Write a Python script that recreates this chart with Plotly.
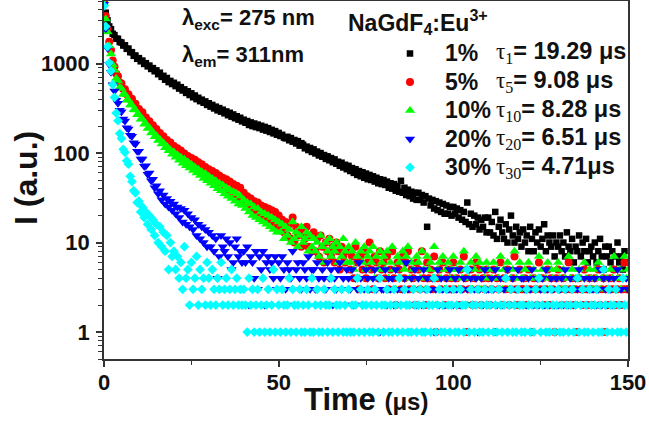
import math
import plotly.graph_objects as go

# ---------------- data ----------------
time_step_us = 0.5
n_points = 301
time_us = [i * time_step_us for i in range(n_points)]

black_1pct = [
    4900, 3700, 3050, 2600, 2420, 2150, 2080, 1900, 1890, 1740, 1720, 1590, 1600, 1460, 1470, 1340, 1340, 1220, 1230, 1130,
    1150, 1060, 1080, 990, 1010, 930, 950, 870, 890, 820, 840, 760, 790, 710, 730, 660, 690, 620, 640, 590,
    610, 560, 580, 525, 545, 500, 515, 470, 490, 445, 465, 420, 440, 400, 415, 380, 395, 365, 378, 345,
    360, 330, 345, 315, 330, 300, 318, 290, 305, 278, 292, 265, 282, 255, 270, 245, 258, 236, 248, 226,
    236, 218, 228, 206, 220, 200, 214, 195, 208, 190, 202, 183, 196, 178, 190, 172, 182, 166, 176, 160,
    168, 155, 160, 149, 146, 152, 139, 147, 134, 140, 128, 136, 121, 129, 124, 113, 118, 108, 114, 103,
    110, 99, 104, 94, 100, 91, 95, 86, 92, 83, 88, 79, 85, 76, 80, 72, 78, 69, 74, 66,
    72, 63, 68, 60, 66, 57, 63, 55, 61, 53, 59, 51, 57, 50, 55, 48, 53, 46, 51, 45,
    50, 44, 48, 41, 46, 40, 45, 38, 43, 37, 49, 36, 41, 34, 39, 33, 37, 31, 36, 30,
    36, 30, 34, 28, 33, 15, 31, 26, 30, 24, 29, 23, 28, 22, 27, 21, 26, 21, 25, 20,
    25, 21, 24, 19, 23, 18, 22, 17, 28, 16, 21, 15, 20, 16, 19, 14, 18, 15, 19, 13,
    19, 13, 17, 12, 22, 11, 15, 18, 13, 11, 16, 10, 14, 20, 12, 10, 15, 11, 13, 9,
    14, 10, 12, 8, 15, 11, 8, 13, 10, 14, 9, 11, 16, 8, 12, 10, 9, 12, 7, 10,
    9, 12, 8, 10, 7, 13, 9, 8, 11, 6, 9, 8, 12, 7, 10, 8, 11, 6, 8, 9,
    7, 10, 6, 8, 11, 7, 5, 9, 7, 9, 6, 8, 5, 7, 10, 6, 7, 5, 8, 6,
    6,
]

red_5pct = [
    4800, 3400, 2450, 1750, 1420, 1080, 920, 770, 720, 610, 600, 520, 515, 455, 455, 400, 405, 360, 355, 315,
    310, 280, 285, 248, 250, 222, 226, 200, 205, 180, 186, 162, 168, 149, 154, 137, 140, 126, 131, 116,
    120, 106, 113, 98, 107, 92, 99, 86, 93, 80, 88, 75, 84, 71, 79, 67, 75, 63, 70, 60,
    66, 56, 63, 52, 60, 49, 56, 46, 53, 42, 51, 39, 48, 37, 45, 34, 43, 32, 41, 30,
    36, 28, 33, 25, 31, 23, 29, 22, 28, 20, 26, 19, 25, 18, 24, 17, 23, 16, 22, 15,
    20, 14, 18, 13, 17, 12, 16, 11, 19, 10, 15, 12, 14, 9, 13, 11, 15, 9, 12, 8,
    13, 8, 11, 7, 12, 9, 6, 10, 8, 11, 7, 9, 6, 10, 8, 5, 9, 7, 6, 8,
    8, 5, 7, 4, 9, 6, 3, 7, 5, 8, 4, 6, 10, 5, 3, 7, 6, 4, 8, 5,
    6, 4, 7, 3, 5, 8, 4, 2, 6, 5, 3, 7, 4, 6, 8, 3, 5, 4, 2, 6,
    5, 3, 8, 4, 2, 6, 4, 5, 3, 7, 1, 4, 5, 3, 6, 2, 4, 5, 3, 4,
    6, 3, 4, 2, 5, 3, 7, 4, 1, 3, 5, 2, 4, 6, 3, 5, 2, 4, 3, 5,
    4, 2, 3, 5, 1, 4, 3, 6, 2, 4, 3, 5, 2, 3, 4, 7, 3, 2, 5, 3,
    3, 4, 2, 5, 3, 1, 4, 3, 2, 6, 3, 4, 2, 3, 5, 2, 4, 3, 1, 4,
    5, 3, 2, 4, 3, 2, 6, 3, 4, 2, 3, 1, 4, 3, 2, 5, 3, 2, 4, 3,
    2, 4, 3, 5, 2, 3, 4, 1, 3, 2, 4, 3, 5, 2, 3, 4, 2, 3, 6, 3,
    3,
]

green_10pct = [
    4700, 3150, 2250, 1580, 1280, 970, 840, 680, 640, 540, 525, 455, 450, 390, 392, 345, 345, 305, 302, 268,
    268, 238, 240, 210, 212, 188, 192, 168, 171, 152, 156, 138, 142, 126, 130, 115, 119, 106, 109, 97,
    103, 90, 96, 83, 90, 77, 85, 72, 80, 68, 75, 64, 70, 60, 66, 56, 62, 52, 59, 49,
    55, 46, 52, 43, 49, 40, 46, 38, 44, 35, 41, 33, 39, 31, 37, 29, 35, 27, 33, 26,
    30, 24, 28, 22, 27, 20, 25, 19, 24, 18, 22, 17, 21, 16, 20, 15, 19, 14, 18, 13,
    17, 13, 16, 11, 15, 12, 14, 10, 17, 11, 13, 9, 12, 15, 10, 11, 13, 8, 12, 9,
    11, 8, 10, 7, 12, 9, 6, 10, 8, 11, 7, 9, 8, 10, 6, 9, 7, 11, 8, 6,
    9, 6, 8, 5, 10, 7, 4, 8, 6, 9, 5, 7, 8, 6, 9, 4, 7, 5, 8, 6,
    7, 5, 8, 4, 6, 9, 5, 3, 7, 6, 4, 8, 5, 7, 9, 4, 6, 5, 3, 7,
    6, 4, 8, 5, 3, 7, 5, 6, 4, 9, 2, 5, 6, 4, 7, 3, 5, 6, 4, 5,
    7, 4, 5, 3, 6, 4, 8, 5, 2, 4, 6, 3, 5, 7, 4, 6, 3, 5, 4, 6,
    5, 3, 4, 6, 2, 5, 4, 7, 3, 5, 4, 6, 3, 4, 5, 8, 4, 3, 6, 4,
    4, 5, 3, 6, 4, 2, 5, 4, 3, 7, 4, 5, 3, 4, 6, 3, 5, 4, 1, 5,
    6, 4, 3, 5, 4, 3, 7, 4, 5, 3, 4, 2, 5, 4, 3, 6, 4, 3, 5, 4,
    3, 5, 4, 6, 3, 4, 5, 2, 4, 3, 5, 4, 7, 3, 4, 5, 3, 4, 7, 4,
    5,
]

blue_20pct = [
    4600, 2450, 1480, 980, 800, 580, 495, 390, 360, 300, 290, 240, 228, 192, 186, 158, 154, 130, 126, 105,
    105, 86, 86, 71, 72, 58, 60, 49, 51, 41, 43, 35, 38, 30, 34, 27, 31, 25, 29, 23,
    27, 21, 25, 19, 24, 17, 23, 16, 21, 15, 19, 14, 18, 12, 16, 11, 15, 10, 14, 9,
    13, 9, 12, 8, 11, 4, 7, 12, 9, 8, 11, 7, 10, 5, 6, 9, 11, 7, 8, 6,
    8, 6, 9, 2, 7, 6, 4, 8, 3, 7, 5, 8, 2, 6, 7, 5, 6, 4, 7, 3,
    6, 4, 7, 5, 3, 6, 5, 4, 8, 2, 5, 6, 4, 3, 6, 5, 4, 7, 3, 5,
    5, 3, 6, 4, 2, 5, 4, 3, 6, 4, 5, 2, 4, 3, 5, 6, 3, 4, 2, 5,
    4, 3, 5, 2, 4, 3, 6, 4, 2, 3, 5, 4, 3, 2, 4, 5, 3, 4, 1, 3,
    3, 5, 2, 4, 3, 4, 2, 5, 3, 4, 2, 3, 4, 6, 3, 2, 4, 3, 5, 2,
    4, 3, 2, 5, 3, 4, 2, 3, 4, 1, 3, 5, 2, 4, 3, 2, 4, 3, 5, 3,
    2, 4, 3, 5, 2, 3, 4, 2, 3, 5, 4, 2, 3, 4, 1, 3, 4, 2, 5, 3,
    3, 2, 4, 3, 5, 2, 3, 4, 2, 3, 4, 5, 2, 3, 4, 2, 3, 5, 2, 4,
    4, 3, 2, 4, 3, 5, 2, 3, 4, 2, 3, 4, 2, 5, 3, 2, 4, 3, 2, 4,
    2, 3, 4, 2, 5, 3, 2, 4, 3, 2, 4, 3, 5, 2, 3, 4, 2, 3, 4, 2,
    3, 4, 2, 3, 5, 2, 4, 3, 2, 4, 3, 2, 4, 3, 5, 2, 3, 4, 2, 4,
    3,
]

cyan_30pct = [
    4400, 2600, 1550, 1020, 830, 580, 420, 280, 230, 165, 145, 110, 102, 82, 75, 55, 48, 38, 36, 28,
    29, 22, 25, 19, 22, 16, 20, 14, 18, 12, 16, 10, 15, 9, 13, 8, 12, 5, 10, 7,
    8, 5, 7, 4, 6, 3, 9, 4, 5, 2, 6, 3, 4, 7, 2, 5, 3, 4, 2, 6,
    4, 2, 5, 3, 2, 4, 3, 6, 2, 3, 4, 2, 3, 5, 2, 3, 4, 2, 3, 2,
    3, 2, 1, 4, 2, 3, 1, 2, 3, 1, 2, 4, 1, 2, 3, 1, 2, 5, 1, 3,
    2, 1, 3, 2, 1, 2, 4, 1, 3, 2, 1, 2, 3, 1, 2, 1, 3, 2, 1, 4,
    1, 2, 3, 1, 2, 1, 3, 2, 1, 2, 4, 1, 3, 2, 1, 2, 3, 1, 2, 1,
    3, 1, 2, 1, 2, 4, 1, 3, 2, 1, 2, 3, 1, 2, 1, 3, 2, 1, 4, 2,
    1, 2, 3, 1, 2, 1, 3, 2, 1, 4, 2, 1, 3, 2, 1, 2, 1, 3, 2, 1,
    2, 3, 1, 2, 1, 3, 2, 1, 2, 4, 1, 2, 3, 1, 2, 1, 3, 2, 1, 2,
    3, 1, 2, 1, 3, 2, 1, 2, 5, 1, 3, 2, 1, 2, 3, 1, 2, 1, 3, 2,
    1, 2, 3, 1, 2, 1, 3, 2, 1, 2, 4, 1, 2, 3, 1, 2, 1, 3, 2, 1,
    2, 1, 3, 2, 1, 2, 1, 3, 2, 4, 1, 2, 3, 1, 2, 1, 3, 2, 1, 2,
    3, 1, 2, 1, 3, 2, 1, 2, 3, 1, 2, 4, 1, 2, 3, 1, 2, 1, 3, 2,
    1, 2, 3, 1, 2, 1, 5, 2, 1, 3, 2, 1, 2, 3, 1, 2, 1, 4, 2, 1,
    2,
]

series_values = [black_1pct, red_5pct, green_10pct, blue_20pct, cyan_30pct]
series_labels = ["1%", "5%", "10%", "20%", "30%"]
tau_subscripts = ["1", "5", "10", "20", "30"]
tau_values = ["19.29 μs", "9.08 μs", "8.28 μs", "6.51 μs", "4.71μs"]

x_tick_values = [0, 50, 100, 150]
y_tick_values = [1, 10, 100, 1000]
y_tick_labels = ["1", "10", "100", "1000"]

# ---------------- styles ----------------
colors = ["#000000", "#FF0000", "#00FF00", "#0000FF", "#00FFFF"]
symbols = ["square", "circle", "triangle-up", "triangle-down", "diamond"]
sizes = [6.5, 8, 9, 9, 7.5]
FONT = "Liberation Sans, Arial, sans-serif"
SERIF = "Liberation Serif, Times New Roman, serif"

W, H = 649, 423
L, R, T, B = 104, 628, 1, 359


def px_x(px):
    return (px - L) / (R - L)


def px_y(py):
    return (B - py) / (B - T)


fig = go.Figure()
for vals, lab, col, sym, sz in zip(series_values, series_labels, colors, symbols, sizes):
    fig.add_trace(go.Scatter(
        x=time_us, y=vals, mode="markers",
        name='<span style="font-size:23px"><b>%s</b></span>' % lab,
        marker=dict(symbol=sym, size=sz, color=col, line=dict(width=0)),
    ))

minor_y = [m * 10 ** d for d in range(-1, 4) for m in range(2, 10) if 0.5 <= m * 10 ** d <= 5000]

axis_common = dict(
    showline=True, linecolor="#333333", linewidth=1.5, mirror=True,
    ticks="outside", ticklen=6, tickwidth=1.5, tickcolor="#333333",
    showgrid=False, zeroline=False, automargin=False,
    tickfont=dict(family=FONT, size=22, color="#111111", weight="bold"),
)

fig.update_xaxes(
    range=[0, 150], tickmode="array", tickvals=x_tick_values,
    ticklabelstandoff=-3,
    minor=dict(tickmode="array", tickvals=[25, 75, 125], ticks="outside",
               ticklen=4, tickwidth=1, tickcolor="#333333", showgrid=False),
    **axis_common,
)
fig.update_yaxes(
    type="log", range=[math.log10(0.5), math.log10(5000)],
    tickmode="array", tickvals=y_tick_values, ticktext=y_tick_labels,
    ticklabelstandoff=2,
    minor=dict(tickmode="array", tickvals=minor_y, ticks="outside",
               ticklen=4, tickwidth=1, tickcolor="#333333", showgrid=False),
    **axis_common,
)

annotations = [
    dict(x=px_x(180), y=px_y(19), xanchor="left", yanchor="middle",
         text="<b>λ<sub>exc</sub>= 275 nm</b>"),
    dict(x=px_x(180), y=px_y(56), xanchor="left", yanchor="middle",
         text="<b>λ<sub>em</sub>= 311nm</b>"),
    dict(x=px_x(346), y=px_y(22), xanchor="left", yanchor="middle",
         text="<b>NaGdF<sub>4</sub>:Eu<sup>3+</sup></b>",
         font=dict(family=FONT, size=23, color="#111111")),
    dict(x=px_x(26), y=px_y(178), xanchor="center", yanchor="middle", textangle=-90,
         text="<b>I (a.u.)</b>", font=dict(family=FONT, size=32, color="#111111")),
    dict(x=px_x(366), y=px_y(399), xanchor="center", yanchor="middle",
         text='<b>Time <span style="font-size:24px">(μs)</span></b>',
         font=dict(family=FONT, size=31, color="#111111")),
]
row_centers = [53, 81.5, 110, 138.5, 167]
for sub, val, yc in zip(tau_subscripts, tau_values, row_centers):
    annotations.append(dict(
        x=px_x(494), y=px_y(yc), xanchor="left", yanchor="middle",
        text='<span style="font-family:%s;font-size:23px">τ<sub>%s</sub></span><b>= %s</b>' % (SERIF, sub, val),
        font=dict(family=FONT, size=23.5, color="#111111"),
    ))
for a in annotations:
    a.setdefault("font", dict(family=FONT, size=22, color="#111111"))
    a.update(xref="paper", yref="paper", showarrow=False)

fig.update_layout(
    width=W, height=H, autosize=False,
    margin=dict(l=L, r=W - R, t=T, b=H - B, pad=0),
    paper_bgcolor="white", plot_bgcolor="white",
    showlegend=True,
    legend=dict(x=px_x(375), y=px_y(34.3), xanchor="left", yanchor="top",
                font=dict(family=FONT, size=19.6, color="#111111"),
                itemwidth=60, bgcolor="rgba(0,0,0,0)", borderwidth=0,
                tracegroupgap=0, itemclick=False),
    annotations=annotations,
)

fig.write_html(
    "out.html",
    config={"displayModeBar": False},
    post_script="document.body.style.margin='0';document.body.style.overflow='hidden';",
)
